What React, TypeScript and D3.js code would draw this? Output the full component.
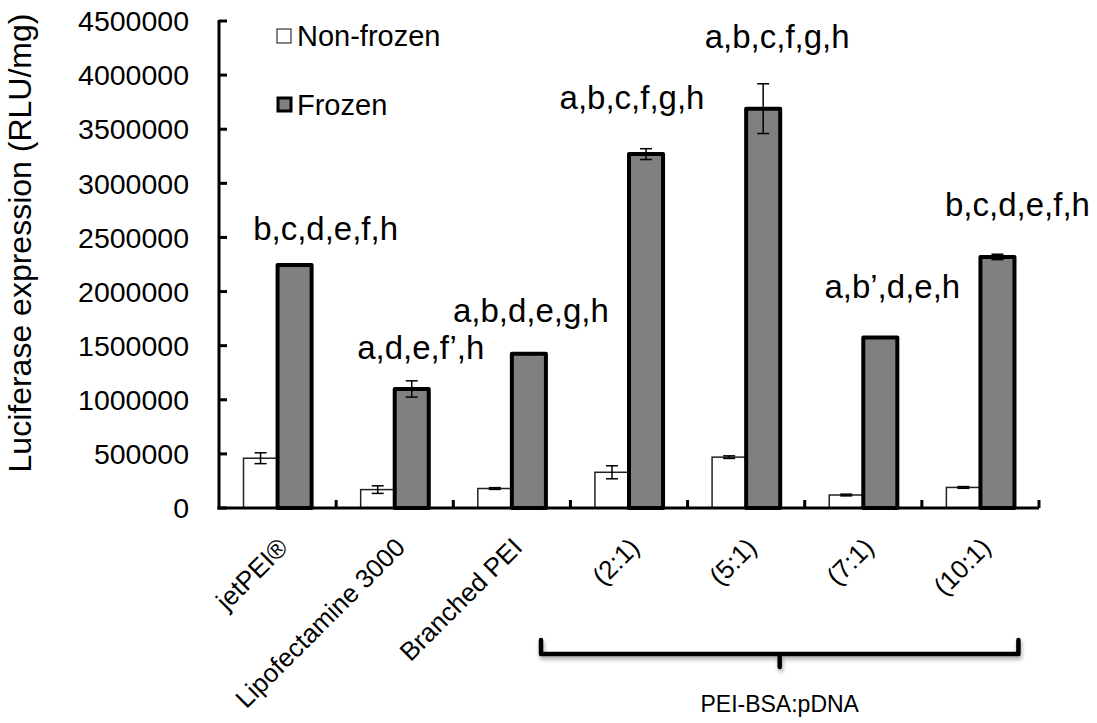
import React from "react";
import * as d3 from "d3";

// Transfection groups along the x axis
const categories = ["jetPEI®", "Lipofectamine 3000", "Branched PEI", "(2:1)", "(5:1)", "(7:1)", "(10:1)"];
const seriesNames = ["Non-frozen", "Frozen"];

// Mean luciferase expression (RLU/mg) and standard deviations
const nonFrozen = [460000, 170000, 180000, 330000, 470000, 120000, 190000];
const nonFrozenErr = [50000, 35000, 8000, 60000, 12000, 8000, 8000];
const frozen = [2245000, 1100000, 1425000, 3270000, 3690000, 1575000, 2320000];
const frozenErr = [10000, 75000, 5000, 50000, 230000, 5000, 25000];

// Significance letters above each group and the level (RLU/mg) of their baseline
const sigLabels = ["b,c,d,e,f,h", "a,d,e,f’,h", "a,b,d,e,g,h", "a,b,c,f,g,h", "a,b,c,f,g,h", "a,b’,d,e,h", "b,c,d,e,f,h"];
const sigLevels = [2480000, 1380000, 1720000, 3690000, 4255000, 1945000, 2700000];

const yTicks = [0, 500000, 1000000, 1500000, 2000000, 2500000, 3000000, 3500000, 4000000, 4500000];

const groupLabel = "PEI-BSA:pDNA";
const groupedCategories = ["(2:1)", "(10:1)"];

const FONT = "'Liberation Sans', Arial, sans-serif";

export default function App() {
  const W = 1097;
  const H = 723;
  const left = 219;
  const right = 1039;
  const top = 21;
  const bottom = 508;

  const x = d3.scaleBand<string>().domain(categories).range([left, right]).paddingInner(0).paddingOuter(0);
  const xs = d3.scaleBand<string>().domain(seriesNames).range([0, x.bandwidth()]).paddingInner(0).paddingOuter(0.72);
  const y = d3.scaleLinear().domain([0, 4500000]).range([bottom, top]);

  const bw = xs.bandwidth();
  const cap = 6;

  // horizontal nudges of the significance letters relative to the frozen bar centre
  const sigNudgePx = [31, 9, 2, -14, 14, 12, 20];

  const gStart = x(groupedCategories[0])! + x.bandwidth() / 2 - 88;
  const gEnd = x(groupedCategories[1])! + x.bandwidth() / 2 + 38;
  const gMid = (gStart + gEnd) / 2;
  const braceY = 654;

  return (
    <svg width={W} height={H} style={{ position: "absolute", left: 0, top: 0, background: "#fff" }} fontFamily={FONT}>
      <defs>
        <filter id="braceShadow" x="-5%" y="-50%" width="110%" height="250%">
          <feDropShadow dx="1" dy="3" stdDeviation="2" floodColor="#000" floodOpacity="0.35" />
        </filter>
      </defs>

      {/* y axis title */}
      <text
        transform={`translate(${31},${243}) rotate(-90)`}
        textAnchor="middle"
        fontSize={32}
        fill="#000"
      >
        Luciferase expression (RLU/mg)
      </text>

      {/* y tick labels */}
      {yTicks.map((t) => (
        <text key={t} x={189} y={y(t)} dy="0.36em" textAnchor="end" fontSize={28.5} fill="#000">
          {t}
        </text>
      ))}

      {/* bars */}
      {categories.map((c, i) => {
        const x0 = x(c)!;
        const xn = x0 + xs("Non-frozen")!;
        const xf = x0 + xs("Frozen")!;
        return (
          <g key={c}>
            <rect x={xn} y={y(nonFrozen[i])} width={bw} height={bottom - y(nonFrozen[i])} fill="#fff" stroke="#222" strokeWidth={1.5} />
            <rect x={xf} y={y(frozen[i])} width={bw} height={bottom - y(frozen[i])} fill="#808080" stroke="#000" strokeWidth={4} strokeLinejoin="round" />
          </g>
        );
      })}

      {/* error bars */}
      {categories.map((c, i) => {
        const x0 = x(c)!;
        const cn = x0 + xs("Non-frozen")! + bw / 2;
        const cf = x0 + xs("Frozen")! + bw / 2;
        const bars = [
          { cx: cn, v: nonFrozen[i], e: nonFrozenErr[i] },
          { cx: cf, v: frozen[i], e: frozenErr[i] },
        ];
        return (
          <g key={c} stroke="#000" strokeWidth={1.5}>
            {bars.map((b, j) => (
              <g key={j}>
                <line x1={b.cx} x2={b.cx} y1={y(b.v + b.e)} y2={y(b.v - b.e)} />
                <line x1={b.cx - cap} x2={b.cx + cap} y1={y(b.v + b.e)} y2={y(b.v + b.e)} />
                <line x1={b.cx - cap} x2={b.cx + cap} y1={y(b.v - b.e)} y2={y(b.v - b.e)} />
              </g>
            ))}
          </g>
        );
      })}

      {/* axes */}
      <g stroke="#000" strokeWidth={3} fill="none">
        <line x1={left} x2={left} y1={top - 1} y2={bottom + 1.5} />
        <line x1={left - 1.5} x2={right} y1={bottom} y2={bottom} />
        {yTicks.map((t) => (
          <line key={t} x1={left} x2={left + 8} y1={y(t)} y2={y(t)} />
        ))}
        {categories.map((c) => (
          <line key={c} x1={x(c)! + x.bandwidth()} x2={x(c)! + x.bandwidth()} y1={bottom} y2={bottom - 8} />
        ))}
      </g>

      {/* significance letters */}
      {categories.map((c, i) => (
        <text
          key={c}
          x={x(c)! + xs("Frozen")! + bw / 2 + sigNudgePx[i]}
          y={y(sigLevels[i])}
          textAnchor="middle"
          fontSize={33}
          fill="#000"
        >
          {sigLabels[i]}
        </text>
      ))}

      {/* category labels */}
      {categories.map((c) => (
        <text
          key={c}
          transform={`translate(${x(c)! + x.bandwidth() / 2 + 12},${549}) rotate(-45)`}
          textAnchor="end"
          fontSize={26}
          fill="#000"
        >
          {c}
        </text>
      ))}

      {/* legend */}
      <g fontSize={29}>
        <rect x={277} y={29} width={14} height={14} fill="#fff" stroke="#333" strokeWidth={1.2} />
        <text x={297} y={46} fill="#000">{seriesNames[0]}</text>
        <rect x={278} y={98} width={13} height={13} fill="#808080" stroke="#000" strokeWidth={3} />
        <text x={297} y={115} fill="#000">{seriesNames[1]}</text>
      </g>

      {/* bracket grouping the PEI-BSA formulations */}
      <path
        d={`M${gStart},${braceY - 14} L${gStart},${braceY} L${gEnd},${braceY} L${gEnd},${braceY - 14} M${gMid},${braceY} L${gMid},${braceY + 13}`}
        fill="none"
        stroke="#000"
        strokeWidth={4.5}
        strokeLinecap="round"
        strokeLinejoin="round"
        filter="url(#braceShadow)"
      />
      <text x={gMid} y={712} textAnchor="middle" fontSize={23} fill="#000">
        {groupLabel}
      </text>
    </svg>
  );
}
